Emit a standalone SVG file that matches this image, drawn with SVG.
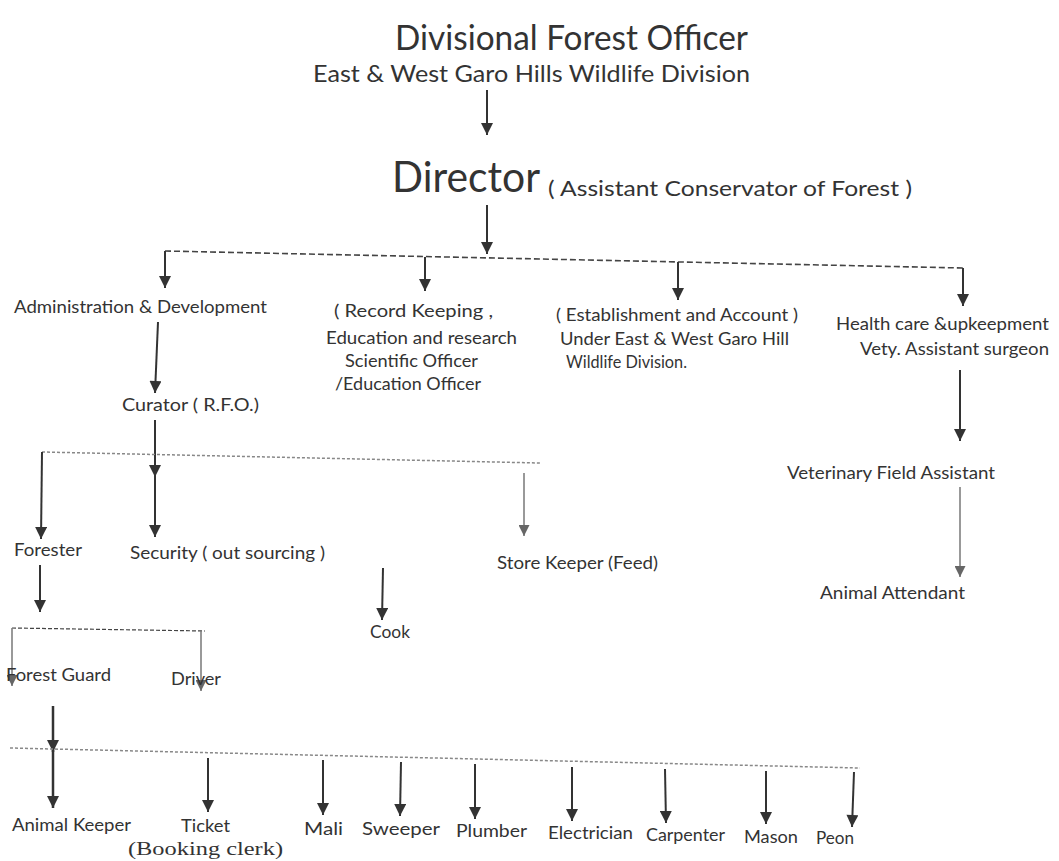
<svg xmlns="http://www.w3.org/2000/svg" width="1059" height="861" viewBox="0 0 1059 861">
<defs>
<marker id="ah" viewBox="0 0 10 10" refX="10" refY="5" markerWidth="14" markerHeight="12" markerUnits="userSpaceOnUse" orient="auto"><path d="M0,0 L10,5 L0,10 z" fill="#333"/></marker>
<marker id="ahg" viewBox="0 0 10 10" refX="10" refY="5" markerWidth="13" markerHeight="11" markerUnits="userSpaceOnUse" orient="auto"><path d="M0,0 L10,5 L0,10 z" fill="#666"/></marker>
</defs>
<style>
text{font-family:Lato,"Liberation Sans",sans-serif;fill:#333}
.lbl{font-size:18px}
.ser{font-family:"Liberation Serif",serif;font-size:18px}
.a{stroke:#333;stroke-width:2;fill:none;marker-end:url(#ah)}
.ag{stroke:#777;stroke-width:1.5;fill:none;marker-end:url(#ahg)}
.d{stroke:#444;stroke-width:1.6;stroke-dasharray:6,3;fill:none}
.dg{stroke:#888;stroke-width:1.5;stroke-dasharray:3,2;fill:none}
</style>
<rect width="1059" height="861" fill="#fff"/>
<g id="connectors">
<line class="a" x1="487" y1="90" x2="487" y2="135"/>
<line class="a" x1="487" y1="205" x2="487" y2="254"/>
<path class="d" d="M165,251 L963,268"/>
<line class="a" x1="165" y1="251" x2="165" y2="288"/>
<line class="a" x1="425" y1="257" x2="425" y2="291"/>
<line class="a" x1="678" y1="262" x2="678" y2="300"/>
<line class="a" x1="963" y1="268" x2="963" y2="306"/>
<line class="a" x1="158" y1="322" x2="155" y2="393"/>
<line class="a" x1="155" y1="420" x2="155" y2="477"/>
<path class="dg" d="M42,452 L540,463"/>
<line class="a" x1="42" y1="452" x2="41" y2="539"/>
<line class="a" x1="155" y1="455" x2="155" y2="537"/>
<line class="ag" x1="524" y1="473" x2="524" y2="536"/>
<line class="a" x1="383" y1="568" x2="382" y2="620"/>
<line class="a" x1="40" y1="565" x2="40" y2="612"/>
<path class="d" d="M12,628 L205,631" style="stroke-width:1.2;stroke-dasharray:4,2"/>
<line class="ag" x1="12" y1="628" x2="12" y2="686"/>
<line class="ag" x1="201" y1="631" x2="201" y2="691"/>
<line class="a" x1="53" y1="706" x2="53" y2="752" style="stroke-width:2.5"/>
<line class="a" x1="53" y1="750" x2="53" y2="808" style="stroke-width:2.5"/>
<path class="dg" d="M10,748 L860,768"/>
<line class="a" x1="208" y1="758" x2="208" y2="812"/>
<line class="a" x1="323" y1="760" x2="323" y2="815"/>
<line class="a" x1="401" y1="762" x2="400" y2="816"/>
<line class="a" x1="475" y1="764" x2="475" y2="819"/>
<line class="a" x1="572" y1="767" x2="572" y2="821"/>
<line class="a" x1="665" y1="769" x2="666" y2="823"/>
<line class="a" x1="766" y1="771" x2="766" y2="824"/>
<line class="a" x1="854" y1="772" x2="852" y2="827"/>
<line class="a" x1="960" y1="370" x2="960" y2="441"/>
<line class="ag" x1="960" y1="487" x2="960" y2="577"/>
</g>
<g id="dfo">
<text x="395" y="50" font-size="34" textLength="353" lengthAdjust="spacingAndGlyphs">Divisional Forest Officer</text>
<text x="313" y="82" font-size="23.5" textLength="437" lengthAdjust="spacingAndGlyphs">East &amp; West Garo Hills Wildlife Division</text>
</g>
<g id="director">
<text x="392" y="192" font-size="42" textLength="148" lengthAdjust="spacingAndGlyphs">Director</text>
<text x="548" y="196" font-size="22" textLength="364" lengthAdjust="spacingAndGlyphs">(  Assistant Conservator of Forest )</text>
</g>
<g id="admin"><text class="lbl" x="14" y="313" textLength="253" lengthAdjust="spacingAndGlyphs">Administration &amp; Development</text></g>
<g id="record" class="lbl">
<text x="334" y="317" textLength="159" lengthAdjust="spacingAndGlyphs">(  Record Keeping ,</text>
<text x="326" y="344" textLength="191" lengthAdjust="spacingAndGlyphs">Education and research</text>
<text x="345" y="367" textLength="133" lengthAdjust="spacingAndGlyphs">Scientific Officer</text>
<text x="335" y="390" textLength="146" lengthAdjust="spacingAndGlyphs">/Education Officer</text>
</g>
<g id="establishment" class="lbl">
<text x="556" y="321" textLength="242" lengthAdjust="spacingAndGlyphs">( Establishment and Account )</text>
<text x="560" y="345" textLength="229" lengthAdjust="spacingAndGlyphs">Under  East &amp; West Garo Hill</text>
<text x="566" y="368" textLength="121" lengthAdjust="spacingAndGlyphs">Wildlife Division.</text>
</g>
<g id="health" class="lbl">
<text x="836" y="330" textLength="213" lengthAdjust="spacingAndGlyphs">Health care &amp;upkeepment</text>
<text x="860" y="355" textLength="189" lengthAdjust="spacingAndGlyphs">Vety. Assistant surgeon</text>
</g>
<g id="curator"><text class="lbl" x="122" y="411" textLength="137" lengthAdjust="spacingAndGlyphs">Curator ( R.F.O.)</text></g>
<g id="forester"><text class="lbl" x="14" y="556" textLength="68" lengthAdjust="spacingAndGlyphs">Forester</text></g>
<g id="security"><text class="lbl" x="130" y="559" textLength="195" lengthAdjust="spacingAndGlyphs">Security ( out sourcing )</text></g>
<g id="store"><text class="lbl" x="497" y="569" textLength="161" lengthAdjust="spacingAndGlyphs">Store Keeper (Feed)</text></g>
<g id="cook"><text class="lbl" x="370" y="638" textLength="40" lengthAdjust="spacingAndGlyphs">Cook</text></g>
<g id="forest-guard"><text class="lbl" x="6" y="681" textLength="105" lengthAdjust="spacingAndGlyphs">Forest Guard</text></g>
<g id="driver"><text class="lbl" x="171" y="685" textLength="50" lengthAdjust="spacingAndGlyphs">Driver</text></g>
<g id="vfa"><text class="lbl" x="787" y="479" textLength="208" lengthAdjust="spacingAndGlyphs">Veterinary Field Assistant</text></g>
<g id="attendant"><text class="lbl" x="820" y="599" textLength="145" lengthAdjust="spacingAndGlyphs">Animal Attendant</text></g>
<g id="animal-keeper"><text class="lbl" x="12" y="831" textLength="119" lengthAdjust="spacingAndGlyphs">Animal Keeper</text></g>
<g id="ticket">
<text class="lbl" x="181" y="832" textLength="49" lengthAdjust="spacingAndGlyphs">Ticket</text>
<text class="ser" x="128" y="855" textLength="155" lengthAdjust="spacingAndGlyphs">(Booking clerk)</text>
</g>
<g id="mali"><text class="lbl" x="304" y="835" textLength="39" lengthAdjust="spacingAndGlyphs">Mali</text></g>
<g id="sweeper"><text class="lbl" x="362" y="835" textLength="78" lengthAdjust="spacingAndGlyphs">Sweeper</text></g>
<g id="plumber"><text class="lbl" x="456" y="837" textLength="71" lengthAdjust="spacingAndGlyphs">Plumber</text></g>
<g id="electrician"><text class="lbl" x="548" y="839" textLength="85" lengthAdjust="spacingAndGlyphs">Electrician</text></g>
<g id="carpenter"><text class="lbl" x="646" y="841" textLength="79" lengthAdjust="spacingAndGlyphs">Carpenter</text></g>
<g id="mason"><text class="lbl" x="744" y="843" textLength="54" lengthAdjust="spacingAndGlyphs">Mason</text></g>
<g id="peon"><text class="lbl" x="816" y="844" textLength="38" lengthAdjust="spacingAndGlyphs">Peon</text></g>
</svg>
